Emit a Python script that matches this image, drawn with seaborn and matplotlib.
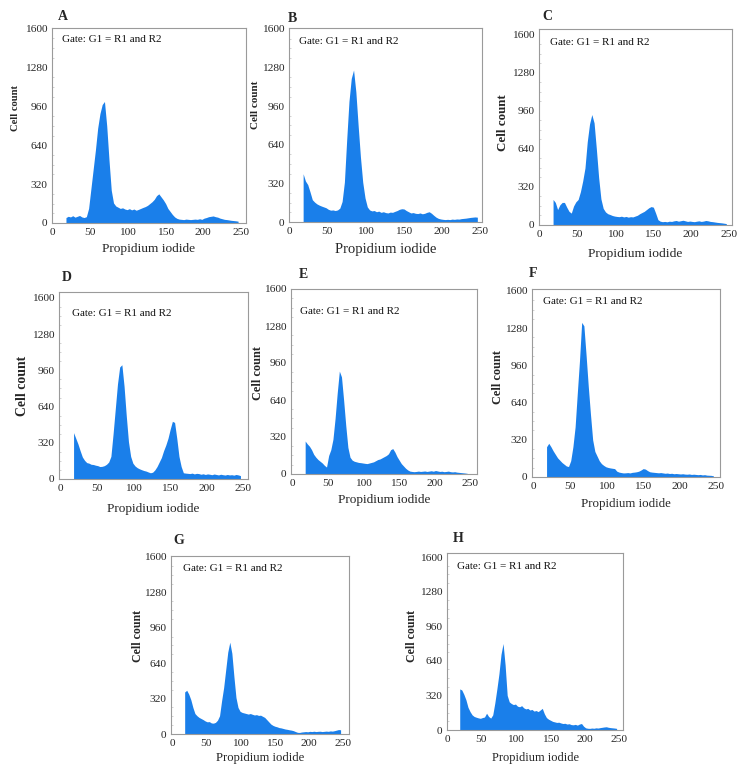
import numpy as np
import pandas as pd
import matplotlib
matplotlib.use("Agg")
import matplotlib.pyplot as plt
from matplotlib.ticker import MultipleLocator
import seaborn as sns

# ---------------- data (cell counts per 3-channel bin, starting at channel 17) ----------------
panel_names = ["A", "B", "C", "D", "E", "F", "G", "H"]
start_channel = 17
bin_width = 3

counts_A = [45, 55, 50, 60, 48, 55, 62, 50, 45, 52,
            120, 280, 440, 600, 780, 900, 975, 1000, 800, 520,
            270, 165, 140, 130, 120, 125, 115, 110, 118, 108,
            115, 105, 112, 120, 128, 135, 145, 160, 175, 195,
            225, 240, 215, 190, 160, 120, 95, 70, 50, 38,
            32, 30, 28, 32, 30, 28, 30, 32, 30, 35,
            30, 40, 45, 52, 55, 58, 52, 48, 40, 35,
            30, 28, 25, 22, 20, 18, 15]
counts_B = [400, 340, 310, 250, 185, 165, 150, 140, 132, 125,
            118, 105, 98, 100, 95, 100, 115, 170, 330, 680,
            1000, 1190, 1260, 1080, 800, 540, 330, 200, 125, 100,
            92, 95, 85, 90, 80, 85, 78, 75, 82, 80,
            88, 95, 105, 110, 108, 95, 85, 75, 78, 72,
            70, 75, 68, 72, 80, 85, 72, 55, 40, 30,
            25, 22, 20, 22, 20, 24, 22, 25, 24, 28,
            30, 32, 35, 38, 40, 42, 40]
counts_C = [215, 190, 130, 170, 190, 190, 150, 115, 100, 160,
            195, 215, 280, 370, 480, 700, 850, 930, 860, 640,
            400, 220, 140, 110, 95, 88, 80, 75, 72, 70,
            74, 68, 72, 66, 70, 68, 75, 82, 95, 105,
            115, 130, 145, 155, 150, 100, 45, 32, 28, 30,
            27, 32, 30, 35, 38, 32, 36, 40, 35, 30,
            33, 30, 28, 32, 35, 30, 33, 38, 35, 30,
            28, 25, 22, 20, 18, 15, 12]
counts_D = [410, 360, 310, 250, 195, 165, 145, 140, 130, 128,
            122, 118, 110, 112, 118, 130, 150, 200, 400, 620,
            840, 990, 1010, 820, 560, 330, 200, 140, 115, 100,
            90, 82, 75, 70, 62, 55, 60, 80, 110, 150,
            190, 250, 300, 360, 440, 510, 500, 360, 200, 110,
            55, 52, 50, 48, 52, 45, 50, 48, 42, 46,
            40, 45, 42, 38, 44, 40, 36, 42, 38, 35,
            40, 36, 38, 34, 40, 36, 30]
counts_E = [285, 260, 240, 210, 170, 145, 125, 110, 95, 75,
            60, 160, 210, 300, 480, 700, 890, 840, 640, 420,
            230, 145, 120, 110, 105, 100, 98, 95, 92, 90,
            95, 100, 105, 115, 125, 130, 140, 150, 160, 175,
            210, 220, 190, 150, 120, 90, 70, 50, 35, 25,
            22, 20, 22, 25, 22, 24, 26, 22, 25, 28,
            24, 30, 26, 22, 24, 20, 22, 25, 20, 18,
            20, 16, 14, 12, 10, 8, 5]
counts_F = [260, 290, 260, 225, 195, 165, 145, 125, 110, 95,
            90, 140, 260, 430, 720, 1000, 1330, 1300, 1050, 780,
            540, 320, 220, 180, 140, 115, 100, 88, 82, 78,
            75, 72, 50, 42, 38, 35, 36, 38, 35, 40,
            42, 45, 50, 60, 72, 68, 55, 45, 42, 40,
            38, 36, 38, 35, 32, 34, 30, 32, 28, 30,
            28, 26, 28, 25, 24, 26, 22, 24, 22, 20,
            22, 18, 20, 16, 15, 14, 10]
counts_G = [380, 395, 360, 310, 240, 185, 165, 150, 140, 130,
            118, 110, 112, 100, 98, 105, 125, 165, 300, 420,
            580, 740, 830, 730, 520, 330, 240, 205, 195, 190,
            185, 180, 185, 178, 172, 175, 168, 170, 160, 150,
            130, 110, 90, 78, 70, 65, 58, 55, 50, 45,
            42, 38, 35, 30, 22, 15, 14, 18, 20, 22,
            20, 24, 22, 25, 22, 24, 25, 22, 24, 26,
            24, 28, 26, 30, 35, 40, 38]
counts_H = [380, 370, 330, 280, 210, 170, 140, 125, 118, 112,
            108, 115, 120, 155, 125, 110, 140, 250, 380, 520,
            700, 800, 600, 320, 260, 245, 235, 240, 220, 215,
            225, 205, 195, 200, 185, 190, 175, 180, 170, 185,
            200, 150, 115, 100, 90, 80, 75, 70, 72, 65,
            60, 62, 55, 58, 50, 48, 52, 45, 55, 60,
            35, 20, 16, 15, 18, 16, 20, 18, 22, 25,
            28, 30, 25, 22, 20, 18, 15]
all_counts = [counts_A, counts_B, counts_C, counts_D,
              counts_E, counts_F, counts_G, counts_H]

x_ticks = [0, 50, 100, 150, 200, 250]
y_ticks = [0, 320, 640, 960, 1280, 1600]
gate_text = "Gate: G1 = R1 and R2"
x_label = "Propidium iodide"
y_label = "Cell count"

# ---------------- layout (pixels in a 753 x 772 canvas) ----------------
W, H = 753, 772
frames = {
    "A": (52, 246, 28, 223, (0, 257), 1605),
    "B": (289, 482, 28, 222, (0, 252.6), 1608),
    "C": (539, 732, 29, 225, (0, 254), 1650),
    "D": (59, 248, 292, 479, (-1.4, 256.8), 1653),
    "E": (291, 477, 289, 474, (-1.4, 259.8), 1600),
    "F": (532, 720, 289, 477, (-1.4, 255.5), 1617),
    "G": (171, 349, 556, 734, (-1.5, 258.8), 1609),
    "H": (447, 623, 553, 730, (0, 255.8), 1637),
}
letter_pos = {"A": (63, 17), "B": (292, 18), "C": (547, 16), "D": (67, 278),
              "E": (303, 275), "F": (533, 274), "G": (179, 541), "H": (458, 539)}
gate_pos = {"A": (12.8, 1507), "B": (13, 1494), "C": (14.5, 1539), "D": (16, 1466),
            "E": (11, 1408), "F": (14, 1510), "G": (15.6, 1498), "H": (14, 1514)}
xlabel_y = {"A": 249, "B": 249, "C": 254, "D": 509, "E": 500, "F": 504, "G": 758, "H": 758}
xlabel_size = {"A": 9.6, "B": 10.5, "C": 9.7, "D": 9.5, "E": 9.5, "F": 9.3, "G": 9.1, "H": 9.0}
ylabel_xy = {"A": (15, 108), "B": (256, 105), "C": (503, 123), "D": (23, 386),
             "E": (258, 373), "F": (498, 377), "G": (138, 636), "H": (412, 636)}
ylabel_size = {"A": 7.6, "B": 8.0, "C": 9.4, "D": 9.9, "E": 8.8, "F": 8.8, "G": 8.6, "H": 8.6}

BLUE = "#1a7fea"
SPINE = "#9a9a9a"

sns.set_style("white")
plt.rcParams["font.family"] = ["Liberation Serif", "DejaVu Serif"]

fig = plt.figure(figsize=(W / 100, H / 100), dpi=100)

for name, counts in zip(panel_names, all_counts):
    L, R, T, B, xlim, ytop = frames[name]
    ax = fig.add_axes([L / W, 1 - B / H, (R - L) / W, (B - T) / H])
    n = len(counts)
    lo = start_channel
    hi = start_channel + bin_width * n
    df = pd.DataFrame({"channel": lo + bin_width * np.arange(n) + bin_width / 2,
                       "count": counts})
    sns.histplot(data=df, x="channel", weights="count", binwidth=bin_width,
                 binrange=(lo, hi), element="poly", fill=True,
                 color=BLUE, alpha=1, linewidth=0, ax=ax)
    ax.set_xlim(*xlim)
    ax.set_ylim(0, ytop)
    ax.set_xticks(x_ticks)
    ax.set_yticks(y_ticks)
    ax.yaxis.set_minor_locator(MultipleLocator(80))
    ax.set_xlabel("")
    ax.set_ylabel("")
    ax.tick_params(axis="both", which="major", labelsize=8.2, length=2, width=0.6,
                   color=SPINE, pad=1.5)
    ax.tick_params(axis="y", which="minor", left=True, length=1.5, width=0.5,
                   color="#c0c0c0", direction="in")
    for sp in ax.spines.values():
        sp.set_color(SPINE)
        sp.set_linewidth(0.8)
    gx, gy = gate_pos[name]
    ax.text(gx, gy, gate_text, fontsize=8, va="center", ha="left", color="#111111")

    lx, ly = letter_pos[name]
    fig.text(lx / W, 1 - ly / H, name, fontsize=10, fontweight="bold",
             ha="center", va="center")
    fig.text(((L + R) / 2) / W, 1 - xlabel_y[name] / H, x_label,
             fontsize=xlabel_size[name], ha="center", va="center")
    yx, yy = ylabel_xy[name]
    fig.text(yx / W, 1 - yy / H, y_label, fontsize=ylabel_size[name],
             fontweight="bold", rotation=90, ha="center", va="center")

fig.savefig("out.png", dpi=100)
